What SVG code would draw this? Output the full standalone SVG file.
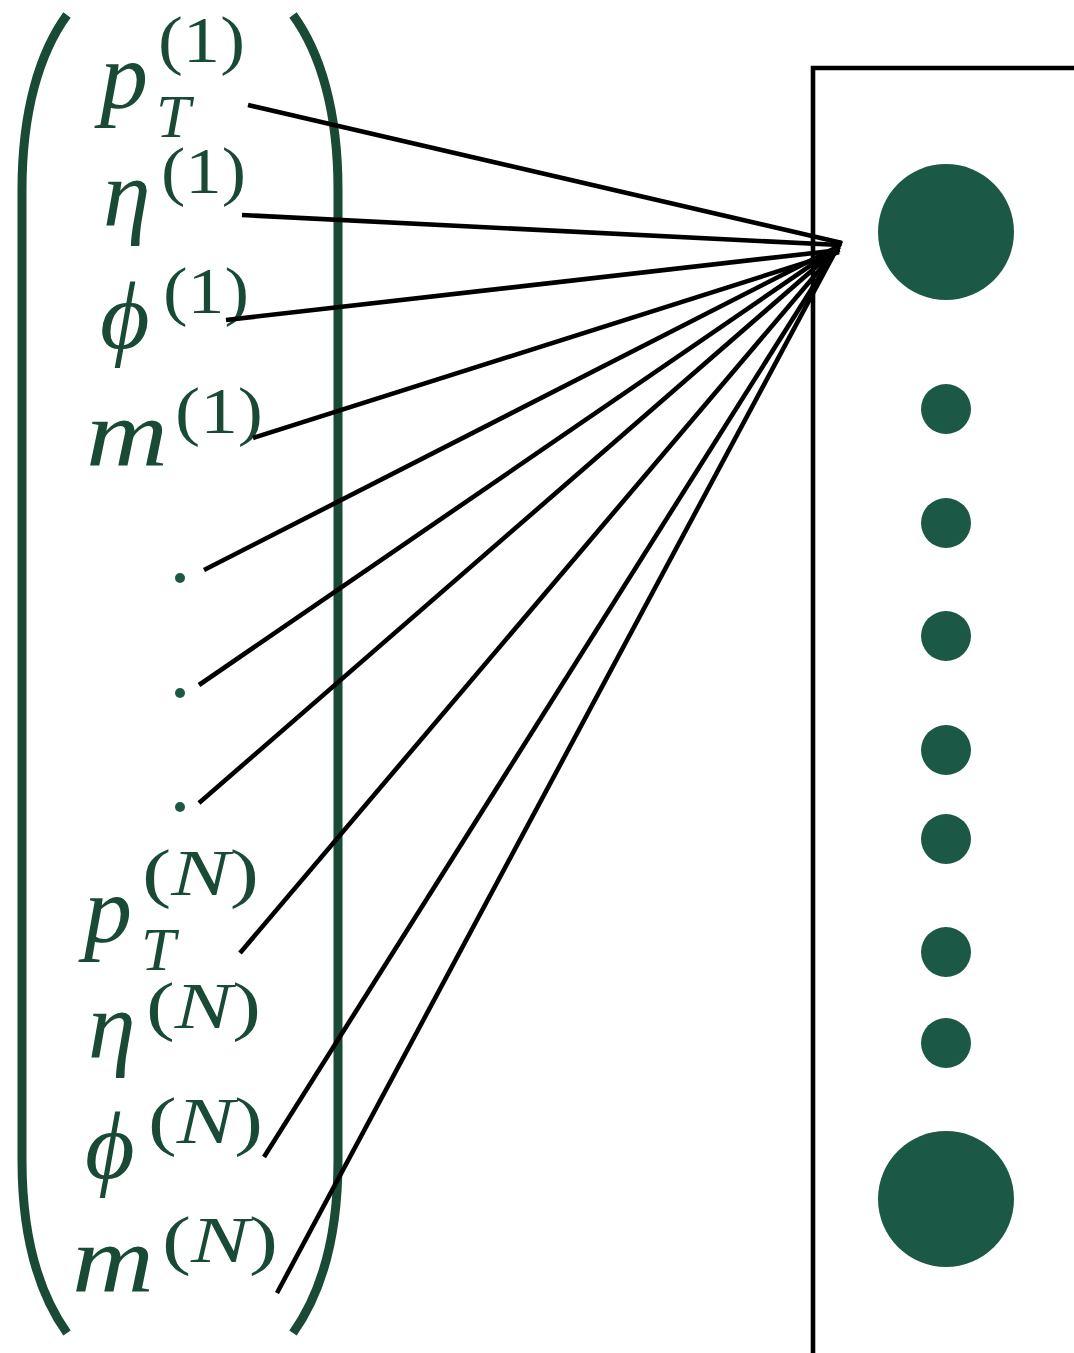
<svg xmlns="http://www.w3.org/2000/svg" width="1074" height="1353" viewBox="0 0 1074 1353">
<style>
.b{font-family:"Liberation Serif","DejaVu Serif",serif;font-style:italic;fill:#184a36;font-size:96px}
.s{font-family:"Liberation Serif","DejaVu Serif",serif;fill:#184a36;font-size:66px}
.i{font-style:italic}
.paren{fill:none;stroke:#184a36;stroke-width:9}
.con{stroke:#000;stroke-width:4.6;fill:none}
.big{fill:#1b5846}
.dot{fill:#1b5846}
</style>
<rect width="1074" height="1353" fill="#fff"/>
<g id="vector">
<path class="paren" d="M67 15 C40 52 22 110 22 190 L22 1160 C22 1240 40 1295 67 1333"/>
<path class="paren" d="M293 15 C320 52 338 110 338 190 L338 1160 C338 1240 320 1295 293 1333"/>
</g>
<g id="pT1"><text class="b" x="100" y="108">p</text><text class="s i" x="156" y="137" style="font-size:62px">T</text><text class="s" x="158" y="62" textLength="87" lengthAdjust="spacingAndGlyphs">(1)</text></g>
<g id="eta1"><text class="b" x="103" y="226">η</text><text class="s" x="161" y="193" textLength="85" lengthAdjust="spacingAndGlyphs">(1)</text></g>
<g id="phi1"><text class="b" x="100" y="348">ϕ</text><text class="s" x="163" y="313" textLength="86" lengthAdjust="spacingAndGlyphs">(1)</text></g>
<g id="m1"><text class="b" x="86" y="466" textLength="82" lengthAdjust="spacingAndGlyphs">m</text><text class="s" x="175" y="433" textLength="88" lengthAdjust="spacingAndGlyphs">(1)</text></g>
<g id="vdots"><circle class="dot" cx="180" cy="578" r="5"/><circle class="dot" cx="180" cy="693" r="5"/><circle class="dot" cx="180" cy="807" r="5"/></g>
<g id="pTN"><text class="b" x="84" y="942">p</text><text class="s i" x="141" y="970" style="font-size:62px">T</text><text class="s" x="142" y="895" textLength="117" lengthAdjust="spacingAndGlyphs">(<tspan class="i">N</tspan>)</text></g>
<g id="etaN"><text class="b" x="88" y="1058">η</text><text class="s" x="146" y="1028" textLength="115" lengthAdjust="spacingAndGlyphs">(<tspan class="i">N</tspan>)</text></g>
<g id="phiN"><text class="b" x="85" y="1178">ϕ</text><text class="s" x="148" y="1143" textLength="115" lengthAdjust="spacingAndGlyphs">(<tspan class="i">N</tspan>)</text></g>
<g id="mN"><text class="b" x="72" y="1292" textLength="82" lengthAdjust="spacingAndGlyphs">m</text><text class="s" x="162" y="1262" textLength="116" lengthAdjust="spacingAndGlyphs">(<tspan class="i">N</tspan>)</text></g>
<g id="connectors">
<line class="con" x1="248" y1="105" x2="842" y2="243"/>
<line class="con" x1="242" y1="215" x2="840" y2="245"/>
<line class="con" x1="226" y1="320" x2="840" y2="250"/>
<line class="con" x1="253" y1="438" x2="839" y2="252"/>
<line class="con" x1="204" y1="570" x2="839" y2="246"/>
<line class="con" x1="199" y1="685" x2="839" y2="246"/>
<line class="con" x1="199" y1="803" x2="839" y2="247"/>
<line class="con" x1="240" y1="953" x2="839" y2="247"/>
<line class="con" x1="264" y1="1157" x2="840" y2="244"/>
<line class="con" x1="277" y1="1293" x2="841" y2="241"/>
</g>
<g id="layer">
<polyline fill="none" stroke="#000" stroke-width="4.6" points="813,1353 813,68 1074,68"/>
<circle class="big" cx="946" cy="232" r="68"/>
<circle class="dot" cx="946" cy="409" r="25"/>
<circle class="dot" cx="946" cy="523" r="25"/>
<circle class="dot" cx="946" cy="636" r="25"/>
<circle class="dot" cx="946" cy="750" r="25"/>
<circle class="dot" cx="946" cy="839" r="25"/>
<circle class="dot" cx="946" cy="952" r="25"/>
<circle class="dot" cx="946" cy="1043" r="25"/>
<circle class="big" cx="946" cy="1199" r="68"/>
</g>
</svg>
